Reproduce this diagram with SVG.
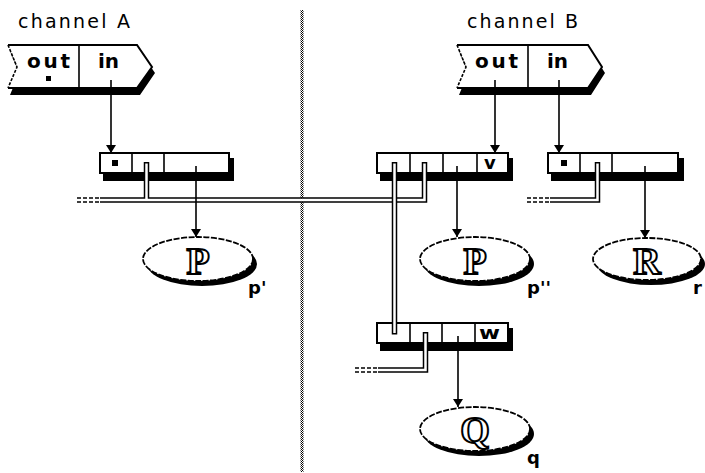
<svg xmlns="http://www.w3.org/2000/svg" width="705" height="473" viewBox="0 0 705 473">
<defs>
<pattern id="chk" width="2" height="2" patternUnits="userSpaceOnUse"><rect width="1" height="1" fill="#000"/><rect x="1" y="1" width="1" height="1" fill="#000"/></pattern>
<marker id="ah" markerUnits="userSpaceOnUse" viewBox="0 0 8 10" markerWidth="8" markerHeight="10" refX="8" refY="5" orient="auto"><path d="M0,0 L8,5 L0,10 Z" fill="#000"/></marker>
</defs>
<style>
.title{font-family:"DejaVu Sans",sans-serif;font-size:19px;fill:#000}
.port{font-family:"DejaVu Sans",sans-serif;font-weight:bold;font-size:20px;fill:#000}
.cellt{font-family:"DejaVu Sans",sans-serif;font-weight:bold;font-size:18px;fill:#000}
.lbl{font-family:"DejaVu Sans",sans-serif;font-weight:bold;font-size:18px;fill:#000}
.proc{font-family:"Liberation Serif",serif;font-weight:bold;font-size:38px;fill:#fff;stroke:#000;stroke-width:2;text-anchor:middle}
.shadow{fill:#000}
.face{fill:#fff;stroke:#000;stroke-width:2}
.div{stroke:#000;stroke-width:1.6}
.notch{fill:none;stroke:#000;stroke-width:1.6;stroke-dasharray:3 1.5}
.ell{fill:#fff;stroke:#000;stroke-width:1.8;stroke-dasharray:6 1.5}
.po{fill:none;stroke:#000;stroke-width:5.5}
.pi{fill:none;stroke:#fff;stroke-width:2.5}
.dash{stroke:#000;stroke-width:1.5;stroke-dasharray:4 2}
.arr{fill:none;stroke:#000;stroke-width:1.6;marker-end:url(#ah)}
</style>
<rect width="705" height="473" fill="#fff"/>
<rect x="300.5" y="10" width="3" height="462" fill="url(#chk)"/>

<g id="channelA">
<text class="title" x="18" y="28" textLength="112" lengthAdjust="spacing">channel A</text>
<path class="shadow" d="M10,51 L140,51 L155,73 L140,95 L10,95 L19,73 Z"/>
<path d="M8,45 L137,45 L152,67 L137,88 L8,88 L17,67 Z" fill="#fff"/>
<path d="M8,45 L137,45 L152,67 L137,88 L8,88" fill="none" stroke="#000" stroke-width="2"/>
<path class="notch" d="M8,45 L17,67 L8,88"/>
<line class="div" x1="79" y1="45" x2="79" y2="88"/>
<text class="port" x="27" y="68" textLength="43" lengthAdjust="spacing">out</text>
<text class="port" x="98" y="68">in</text>
<rect x="46" y="76" width="5" height="5" fill="#000"/>
</g>

<g id="channelB">
<text class="title" x="467" y="28" textLength="111" lengthAdjust="spacing">channel B</text>
<path class="shadow" d="M459,51 L591,51 L605,73 L591,95 L459,95 L468,73 Z"/>
<path d="M457,45 L588,45 L602,67 L588,88 L457,88 L466,67 Z" fill="#fff"/>
<path d="M457,45 L588,45 L602,67 L588,88 L457,88" fill="none" stroke="#000" stroke-width="2"/>
<path class="notch" d="M457,45 L466,67 L457,88"/>
<line class="div" x1="528" y1="45" x2="528" y2="88"/>
<text class="port" x="475" y="68" textLength="43" lengthAdjust="spacing">out</text>
<text class="port" x="547" y="68">in</text>
</g>

<g id="boxA">
<rect class="shadow" x="103" y="158" width="131" height="23"/>
<rect class="face" x="100" y="153" width="129" height="20"/>
<line class="div" x1="132" y1="153" x2="132" y2="173"/>
<line class="div" x1="164" y1="153" x2="164" y2="173"/>
<rect x="112" y="160" width="6" height="6" fill="#000"/>
</g>

<g id="boxB1">
<rect class="shadow" x="380" y="158" width="133" height="23"/>
<rect class="face" x="377" y="153" width="131" height="20"/>
<line class="div" x1="410" y1="153" x2="410" y2="173"/>
<line class="div" x1="443" y1="153" x2="443" y2="173"/>
<line class="div" x1="477" y1="153" x2="477" y2="173"/>
<text class="cellt" x="484" y="169">v</text>
</g>

<g id="boxB2">
<rect class="shadow" x="551" y="158" width="133" height="23"/>
<rect class="face" x="548" y="153" width="130" height="20"/>
<line class="div" x1="580" y1="153" x2="580" y2="173"/>
<line class="div" x1="612" y1="153" x2="612" y2="173"/>
<rect x="561" y="160" width="6" height="6" fill="#000"/>
</g>

<g id="boxB3">
<rect class="shadow" x="380" y="328" width="133" height="23"/>
<rect class="face" x="377" y="323" width="131" height="20"/>
<line class="div" x1="410" y1="323" x2="410" y2="343"/>
<line class="div" x1="442" y1="323" x2="442" y2="343"/>
<line class="div" x1="475" y1="323" x2="475" y2="343"/>
<text class="cellt" x="479" y="339" textLength="21" lengthAdjust="spacingAndGlyphs">w</text>
</g>

<g id="procP1">
<ellipse class="shadow" cx="202" cy="264" rx="55" ry="22"/>
<ellipse class="ell" cx="198" cy="259" rx="55" ry="22"/>
<text class="proc" x="198" y="274">P</text>
<text class="lbl" x="248" y="294">p'</text>
</g>

<g id="procP2">
<ellipse class="shadow" cx="479" cy="264" rx="55" ry="22"/>
<ellipse class="ell" cx="475" cy="259" rx="55" ry="22"/>
<text class="proc" x="475" y="274">P</text>
<text class="lbl" x="527" y="294">p''</text>
</g>

<g id="procR">
<ellipse class="shadow" cx="651" cy="264" rx="54" ry="21"/>
<ellipse class="ell" cx="647" cy="259" rx="54" ry="21"/>
<text class="proc" x="647" y="274">R</text>
<text class="lbl" x="693" y="294">r</text>
</g>

<g id="procQ">
<ellipse class="shadow" cx="479" cy="434" rx="55" ry="22"/>
<ellipse class="ell" cx="475" cy="429" rx="55" ry="22"/>
<text class="proc" x="475" y="443">Q</text>
<text class="lbl" x="527" y="464">q</text>
</g>

<g id="connectors">
<line class="dash" x1="77" y1="198" x2="100" y2="198"/>
<line class="dash" x1="77" y1="202" x2="100" y2="202"/>
<line class="dash" x1="527" y1="198" x2="550" y2="198"/>
<line class="dash" x1="527" y1="202" x2="550" y2="202"/>
<line class="dash" x1="355" y1="368" x2="378" y2="368"/>
<line class="dash" x1="355" y1="372" x2="378" y2="372"/>
<path class="po" d="M100,200 H424.5 V162"/>
<path class="po" d="M146.5,162 V199"/>
<path class="pi" d="M100,200 H424.5 V163.5"/>
<path class="pi" d="M146.5,163.5 V201"/>
<path class="po" d="M394.5,162 V334.5"/>
<path class="pi" d="M394.5,163.5 V333"/>
<path class="po" d="M597.5,162 V200 H550"/>
<path class="pi" d="M597.5,163.5 V200 H550"/>
<path class="po" d="M425.5,332 V370 H378"/>
<path class="pi" d="M425.5,333.5 V370 H378"/>
<path class="arr" d="M111,80 V153"/>
<path class="arr" d="M495,80 V153"/>
<path class="arr" d="M559,80 V153"/>
<path class="arr" d="M196,166 V237"/>
<path class="arr" d="M457,166 V237"/>
<path class="arr" d="M645,166 V238"/>
<path class="arr" d="M458,336 V407"/>
</g>
</svg>
